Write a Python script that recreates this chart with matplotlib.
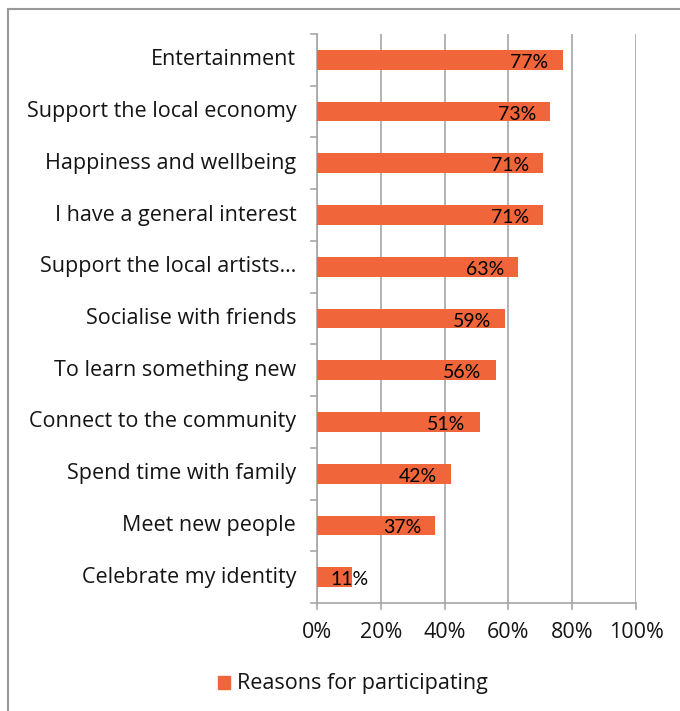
import matplotlib
matplotlib.use("Agg")
import matplotlib.pyplot as plt
import matplotlib.transforms as mtransforms
from matplotlib.lines import Line2D
from matplotlib.patches import Rectangle

categories = [
    "Entertainment",
    "Support the local economy",
    "Happiness and wellbeing",
    "I have a general interest",
    "Support the local artists…",
    "Socialise with friends",
    "To learn something new",
    "Connect to the community",
    "Spend time with family",
    "Meet new people",
    "Celebrate my identity",
]
values = [77, 73, 71, 71, 63, 59, 56, 51, 42, 37, 11]
x_ticks = [0, 20, 40, 60, 80, 100]
x_tick_labels = ["0%", "20%", "40%", "60%", "80%", "100%"]
series_name = "Reasons for participating"

BAR = "#F0663A"
GRID = "#A6A6A6"
TEXT = "#151515"
LABEL_FONT = "Open Sans"
VALUE_FONT = "Lato"
LABEL_SIZE = 15.5

fig = plt.figure(figsize=(6.8, 7.11), dpi=100)
ax = fig.add_axes([317 / 680, 1 - 603 / 711, (636 - 317) / 680, (603 - 34) / 711])

n = len(categories)
ypos = list(range(n))
ax.barh(ypos, values, height=0.38, color=BAR, zorder=3)
ax.set_ylim(n - 0.5, -0.5)
ax.set_xlim(0, 100)

ax.set_xticks(x_ticks)
ax.set_xticklabels(x_tick_labels, fontsize=LABEL_SIZE, family=LABEL_FONT, color=TEXT)
ax.set_yticks(ypos)
ax.set_yticklabels(categories, fontsize=LABEL_SIZE, family=LABEL_FONT, color=TEXT)
ax.tick_params(axis="y", length=0, pad=15)
ax.tick_params(axis="x", length=0, pad=14)

# lift the category names slightly above the bar centres
lift = mtransforms.ScaledTranslation(0, 2.5 / 100, fig.dpi_scale_trans)
for lbl in ax.get_yticklabels():
    lbl.set_transform(lbl.get_transform() + lift)

# category separators on the value axis
for b in [i - 0.5 for i in range(n + 1)]:
    ax.plot([-2.0, 0], [b, b], color=GRID, lw=1.2, clip_on=False, zorder=2)
for t in x_ticks:
    ax.plot([t, t], [n - 0.5, n - 0.5 + 0.12], color=GRID, lw=1.2, clip_on=False, zorder=2)

ax.grid(axis="x", color=GRID, lw=1.2, zorder=0)
for side in ["top", "right"]:
    ax.spines[side].set_visible(False)
ax.spines["left"].set_color(GRID)
ax.spines["bottom"].set_color(GRID)
ax.spines["left"].set_linewidth(1.2)
ax.spines["bottom"].set_linewidth(1.2)

for y, v in zip(ypos, values):
    right = max(v - 4.4, 16.3)
    ax.text(right, y + 0.05, f"{v}%", ha="right", va="center",
            fontsize=14, family=VALUE_FONT, color="#000000", zorder=4)

# legend
fig.patches.append(Rectangle((218 / 680, 1 - 689 / 711), 12 / 680, 13 / 711,
                             transform=fig.transFigure, color=BAR))
fig.text(237 / 680, 1 - 683 / 711, series_name, ha="left", va="center",
         fontsize=LABEL_SIZE, family=LABEL_FONT, color=TEXT)

# chart frame
fig.add_artist(Line2D([8 / 680, 1], [1 - 9 / 711, 1 - 9 / 711], color="#9A9A9A", lw=1.5,
                      transform=fig.transFigure))
fig.add_artist(Line2D([8 / 680, 8 / 680], [0, 1 - 9 / 711], color="#9A9A9A", lw=1.5,
                      transform=fig.transFigure))

fig.savefig("out.png", dpi=100)
